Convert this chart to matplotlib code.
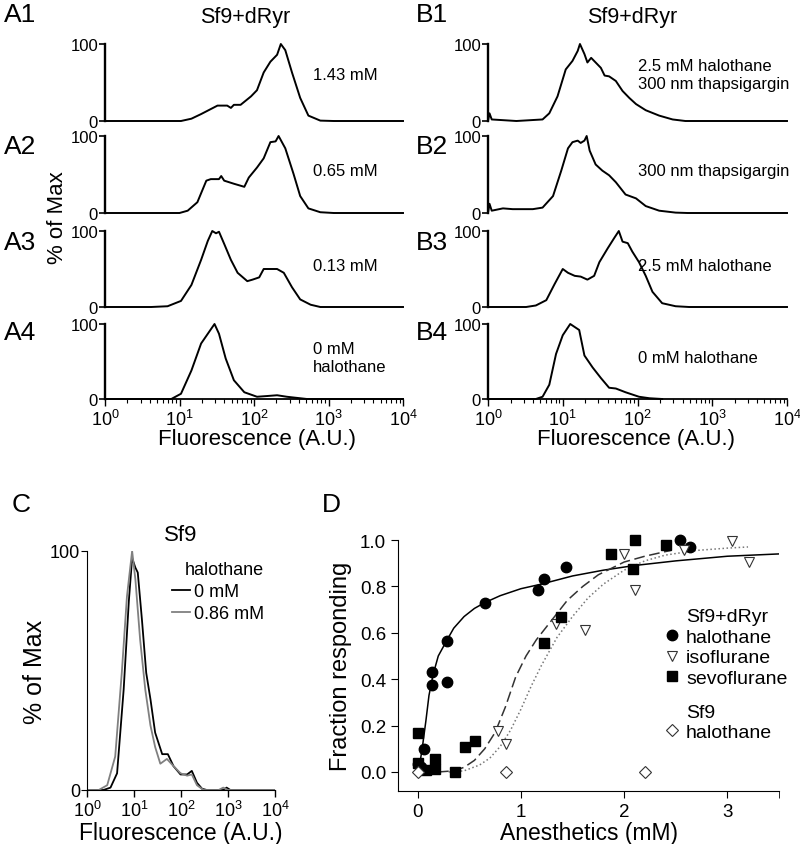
import numpy as np
import matplotlib
matplotlib.use("Agg")
import matplotlib.pyplot as plt
from matplotlib.lines import Line2D

plt.rcParams['font.family'] = ['Liberation Sans', 'DejaVu Sans']
plt.rcParams['mathtext.fontset'] = 'custom'
plt.rcParams['mathtext.rm'] = 'Liberation Sans'
plt.rcParams['mathtext.it'] = 'Liberation Sans'

# histograms: log10(fluorescence) and % of max
a1_lx = [0, 0.62, 1.02, 1.16, 1.29, 1.51, 1.64, 1.69, 1.73, 1.82, 1.96, 2.04, 2.13, 2.22, 2.31, 2.36, 2.42, 2.51, 2.62, 2.73, 2.89, 3.07, 4]
a1_y = [0, 0, 0, 3, 9, 20, 20, 17, 21, 21, 32, 40, 63, 77, 86, 100, 92, 63, 30, 7, 0.5, 0, 0]
a2_lx = [0, 1.0, 1.11, 1.24, 1.36, 1.42, 1.53, 1.56, 1.6, 1.73, 1.87, 1.93, 2.04, 2.13, 2.22, 2.29, 2.33, 2.42, 2.53, 2.62, 2.73, 2.89, 3.07, 4]
a2_y = [0, 0, 3, 14, 42, 44, 44, 48, 42, 38, 34, 46, 59, 71, 92, 93, 100, 84, 51, 22, 6, 1, 0, 0]
a3_lx = [0, 0.62, 0.84, 1.02, 1.16, 1.29, 1.38, 1.44, 1.49, 1.53, 1.6, 1.69, 1.78, 1.91, 1.98, 2.07, 2.13, 2.22, 2.31, 2.4, 2.51, 2.62, 2.76, 2.89, 4]
a3_y = [0, 0, 1, 8, 29, 62, 87, 100, 97, 99, 83, 62, 45, 34, 36, 39, 50, 50, 50, 45, 26, 10, 3, 0, 0]
a4_lx = [0, 0.89, 1.02, 1.16, 1.29, 1.38, 1.47, 1.53, 1.62, 1.73, 1.87, 2.04, 2.18, 2.31, 2.44, 2.62, 2.71, 4]
a4_y = [0, 0, 7, 38, 74, 87, 100, 87, 54, 25, 9, 3, 4, 5, 3, 1, 0, 0]

b1_lx = [0, 0.02, 0.05, 0.38, 0.73, 0.82, 0.93, 1.04, 1.13, 1.2, 1.23, 1.29, 1.33, 1.38, 1.44, 1.51, 1.56, 1.62, 1.71, 1.8, 1.89, 1.98, 2.11, 2.29, 2.47, 2.64, 4]
b1_y = [0, 10, 2, 0, 2, 10, 32, 67, 78, 91, 100, 87, 76, 82, 76, 69, 59, 58, 52, 39, 30, 22, 14, 7, 2, 0, 0]
b2_lx = [0, 0.02, 0.05, 0.2, 0.33, 0.6, 0.73, 0.87, 0.98, 1.07, 1.13, 1.2, 1.24, 1.29, 1.32, 1.36, 1.44, 1.53, 1.62, 1.71, 1.84, 1.98, 2.11, 2.29, 2.51, 2.67, 4]
b2_y = [0, 12, 3, 6, 5, 5, 7, 22, 55, 84, 92, 94, 91, 94, 100, 81, 63, 55, 49, 40, 24, 19, 9, 3, 0.5, 0, 0]
b3_lx = [0, 0.51, 0.64, 0.78, 0.89, 1.0, 1.07, 1.16, 1.24, 1.33, 1.42, 1.49, 1.6, 1.69, 1.75, 1.8, 1.87, 1.93, 2.02, 2.11, 2.2, 2.33, 2.51, 2.69, 4]
b3_y = [0, 0, 2, 9, 30, 50, 45, 41, 40, 36, 41, 59, 77, 91, 100, 86, 84, 73, 59, 41, 20, 5, 1, 0, 0]
b4_lx = [0, 0.64, 0.73, 0.82, 0.91, 1.0, 1.1, 1.22, 1.29, 1.4, 1.51, 1.62, 1.71, 1.84, 2.02, 2.16, 2.33]
b4_y = [0, 0, 3, 19, 60, 85, 100, 92, 58, 42, 28, 15, 14, 9, 3, 1, 0]

c_black_lx = [0, 0.35, 0.5, 0.64, 0.78, 0.89, 0.96, 1.03, 1.08, 1.17, 1.26, 1.35, 1.45, 1.6, 1.72, 1.84, 1.99, 2.13, 2.23, 2.34, 2.45, 2.55, 2.9, 2.97, 3.05, 4]
c_black_y = [0, 0, 1, 7, 42, 79, 97, 93, 91, 71, 49, 38, 24, 15, 15, 10, 6.5, 6.5, 8, 3, 0.5, 0, 0, 1, 0, 0]
c_gray_lx = [0, 0.25, 0.43, 0.6, 0.74, 0.85, 0.96, 1.03, 1.13, 1.24, 1.35, 1.45, 1.56, 1.7, 1.84, 1.99, 2.13, 2.23, 2.34, 2.48, 2.8, 2.9, 3.0, 4]
c_gray_y = [0, 0, 2, 14, 49, 81, 100, 88, 63, 42, 27, 18, 11, 13, 10, 7, 6, 6.5, 2, 0, 0, 1, 0, 0]

# panel D data
halo_x = [0.0, 0.03, 0.065, 0.136, 0.136, 0.28, 0.28, 0.65, 1.17, 1.22, 1.44, 2.54, 2.64]
halo_y = [0.033, 0.02, 0.10, 0.433, 0.375, 0.563, 0.39, 0.73, 0.785, 0.83, 0.885, 1.0, 0.97]
iso_x = [0.78, 0.86, 1.34, 1.62, 2.0, 2.11, 2.58, 3.04, 3.21]
iso_y = [0.177, 0.122, 0.64, 0.61, 0.94, 0.785, 0.955, 0.997, 0.907]
sevo_x = [0.0, 0.0, 0.08, 0.17, 0.17, 0.36, 0.46, 0.56, 1.22, 1.39, 1.87, 2.09, 2.11, 2.41]
sevo_y = [0.17, 0.04, 0.007, 0.055, 0.012, 0.0, 0.108, 0.132, 0.555, 0.666, 0.94, 0.875, 1.0, 0.98]
sf9_x = [0.0, 0.86, 2.2]
sf9_y = [0.0, 0.0, 0.0]

fit_halo_x = [0.0, 0.02, 0.05, 0.08, 0.11, 0.15, 0.2, 0.28, 0.35, 0.45, 0.55, 0.65, 0.8, 1.0, 1.2, 1.5, 1.8, 2.1, 2.5, 3.0, 3.5]
fit_halo_y = [0.0, 0.03, 0.12, 0.22, 0.33, 0.42, 0.50, 0.565, 0.62, 0.67, 0.705, 0.73, 0.76, 0.79, 0.81, 0.845, 0.87, 0.89, 0.91, 0.93, 0.94]
fit_sevo_x = [0.05, 0.2, 0.35, 0.45, 0.55, 0.65, 0.75, 0.85, 0.95, 1.05, 1.15, 1.3, 1.45, 1.6, 1.75, 2.0, 2.2, 2.45]
fit_sevo_y = [0.0, 0.0, 0.005, 0.02, 0.05, 0.10, 0.17, 0.28, 0.41, 0.50, 0.57, 0.655, 0.74, 0.80, 0.85, 0.905, 0.93, 0.955]
fit_iso_x = [0.3, 0.45, 0.6, 0.7, 0.8, 0.9, 1.0, 1.1, 1.2, 1.35, 1.5, 1.65, 1.8, 2.0, 2.2, 2.4, 2.7, 3.0, 3.2]
fit_iso_y = [0.0, 0.005, 0.03, 0.06, 0.11, 0.18, 0.27, 0.37, 0.46, 0.58, 0.67, 0.75, 0.81, 0.87, 0.91, 0.935, 0.955, 0.965, 0.97]

a_sets = [(a1_lx, a1_y), (a2_lx, a2_y), (a3_lx, a3_y), (a4_lx, a4_y)]
b_sets = [(b1_lx, b1_y), (b2_lx, b2_y), (b3_lx, b3_y), (b4_lx, b4_y)]
a_notes = ['1.43 mM', '0.65 mM', '0.13 mM', '0 mM\nhalothane']
b_notes = ['2.5 mM halothane\n300 nm thapsigargin', '300 nm thapsigargin',
           '2.5 mM halothane', '0 mM halothane']

W, H = 800, 845
fig = plt.figure(figsize=(8, 8.45), dpi=100)


def px(x, y):
    return x / W, 1 - y / H


def log_xaxis(ax, fs):
    ax.set_xscale('log')
    ax.set_xlim(1, 1e4)
    ax.set_xticks([1, 10, 100, 1000, 10000])
    ax.tick_params(axis='x', which='major', direction='out', length=5, width=1, labelsize=fs, pad=2)
    ax.tick_params(axis='x', which='minor', direction='out', length=3, width=0.8)


rows = [(45, 122), (137, 214), (232, 308), (325, 400)]


def hist_column(left, right, sets, notes, note_x):
    for i, ((lx, yy), (ytop, ybot)) in enumerate(zip(sets, rows)):
        ax = fig.add_axes([left / W, 1 - ybot / H, (right - left) / W, (ybot - ytop) / H])
        ax.plot(10 ** np.array(lx), yy, color='black', lw=1.4, clip_on=False)
        ax.set_ylim(0, 100)
        for s in ['top', 'right']:
            ax.spines[s].set_visible(False)
        ax.spines['left'].set_linewidth(1.7)
        ax.set_yticks([0, 100])
        ax.set_yticklabels(['0', '100'])
        ax.tick_params(axis='y', direction='out', length=4, width=1.2, labelsize=12, pad=1)
        if i < 3:
            ax.spines['bottom'].set_visible(False)
            ax.set_xscale('log')
            ax.set_xlim(1, 1e4)
            ax.set_xticks([])
            ax.set_xticks([], minor=True)
        else:
            ax.spines['bottom'].set_linewidth(1.3)
            log_xaxis(ax, 13)
        ax.patch.set_alpha(0)
        ax.text((note_x - left) / (right - left), 0.55 if i > 0 else 0.6, notes[i],
                transform=ax.transAxes, fontsize=12, va='center', ha='left', linespacing=1.25)


hist_column(105, 403, a_sets, a_notes, 313)
hist_column(488, 787, b_sets, b_notes, 638)

for lab, x, y in [('A1', 4, 15), ('A2', 4, 147), ('A3', 4, 243), ('A4', 4, 333)]:
    fig.text(*px(x, y), lab, fontsize=19, va='center', ha='left')
for lab, x, y in [('B1', 416, 15), ('B2', 416, 147), ('B3', 416, 243), ('B4', 416, 333)]:
    fig.text(*px(x, y), lab, fontsize=19, va='center', ha='left')

fig.text(*px(245, 17), 'Sf9+dRyr', fontsize=15.5, ha='center', va='center')
fig.text(*px(632, 17), 'Sf9+dRyr', fontsize=15.5, ha='center', va='center')
fig.text(*px(58, 218), '% of Max', fontsize=16, rotation=90, ha='center', va='center')
fig.text(*px(257, 440), 'Fluorescence (A.U.)', fontsize=16, ha='center', va='center')
fig.text(*px(636, 440), 'Fluorescence (A.U.)', fontsize=16, ha='center', va='center')

# panel C
axc = fig.add_axes([87 / W, 1 - 791 / H, (275 - 87) / W, (791 - 552) / H])
axc.plot(10 ** np.array(c_black_lx), c_black_y, color='black', lw=1.3, label='0 mM')
axc.plot(10 ** np.array(c_gray_lx), c_gray_y, color='#808080', lw=1.3, label='0.86 mM')
axc.set_ylim(0, 100)
log_xaxis(axc, 13)
axc.set_yticks([0, 100])
axc.set_yticklabels(['0', '100'])
axc.tick_params(axis='y', direction='out', length=4, labelsize=13, pad=1)
for s in ['top', 'right']:
    axc.spines[s].set_visible(False)
axc.set_title('Sf9', fontsize=16, pad=8)
axc.set_ylabel('% of Max', fontsize=18, labelpad=2)
axc.set_xlabel('Fluorescence (A.U.)', fontsize=16.5, labelpad=1)
leg = axc.legend(title='halothane', frameon=False, fontsize=13, title_fontsize=13,
                 handlelength=1.0, handletextpad=0.25, labelspacing=0.3,
                 loc='upper left', bbox_to_anchor=(0.45, 0.96), alignment='right',
                 borderpad=0, borderaxespad=0)
fig.text(*px(12, 505), 'C', fontsize=19, va='center', ha='left')

# panel D
axd = fig.add_axes([398 / W, 1 - 792 / H, (779 - 398) / W, (792 - 541) / H])
axd.plot(fit_halo_x, fit_halo_y, color='black', lw=1.1)
axd.plot(fit_sevo_x, fit_sevo_y, color='#333333', lw=1.1, dashes=(7, 3))
axd.plot(fit_iso_x, fit_iso_y, color='#777777', lw=1.1, linestyle=':')
axd.plot(halo_x, halo_y, 'o', color='black', ms=7.5, clip_on=False)
axd.plot(iso_x, iso_y, 'v', mfc='white', mec='#333333', mew=0.8, ms=7.5, clip_on=False)
axd.plot(sevo_x, sevo_y, 's', color='black', ms=6.5, clip_on=False)
axd.plot(sf9_x, sf9_y, 'D', mfc='white', mec='#333333', mew=0.8, ms=6.5, clip_on=False)
axd.set_xlim(-0.19, 3.5)
axd.set_ylim(-0.082, 1.0)
axd.set_xticks([0, 1, 2, 3])
axd.set_xticks([3.5], minor=True)
axd.set_yticks([0, 0.2, 0.4, 0.6, 0.8, 1.0])
axd.set_yticklabels(['0.0', '0.2', '0.4', '0.6', '0.8', '1.0'])
axd.tick_params(axis='both', which='both', direction='out', length=5, labelsize=13.5)
for s in ['top', 'right']:
    axd.spines[s].set_visible(False)
axd.set_xlabel('Anesthetics (mM)', fontsize=16.5, labelpad=1)
axd.set_ylabel('Fraction responding', fontsize=17, labelpad=6)

blank = Line2D([], [], linestyle='none')
h1 = [blank,
      Line2D([], [], marker='o', color='black', linestyle='none', ms=7.5),
      Line2D([], [], marker='v', mfc='white', mec='#333333', linestyle='none', ms=7.5, mew=0.8),
      Line2D([], [], marker='s', color='black', linestyle='none', ms=6.5)]
leg1 = axd.legend(h1, ['Sf9+dRyr', 'halothane', 'isoflurane', 'sevoflurane'], frameon=False,
                  fontsize=14, handlelength=0.8, handletextpad=0.3, labelspacing=0.15,
                  loc='upper left', bbox_to_anchor=(0.70, 0.73), borderpad=0, borderaxespad=0)
axd.add_artist(leg1)
h2 = [blank, Line2D([], [], marker='D', mfc='white', mec='#333333', linestyle='none', ms=6.5, mew=0.8)]
axd.legend(h2, ['Sf9', 'halothane'], frameon=False, fontsize=14, handlelength=0.8,
           handletextpad=0.3, labelspacing=0.15, loc='upper left',
           bbox_to_anchor=(0.70, 0.35), borderpad=0, borderaxespad=0)
fig.text(*px(322, 505), 'D', fontsize=19, va='center', ha='left')

fig.savefig('out.png', dpi=100)
